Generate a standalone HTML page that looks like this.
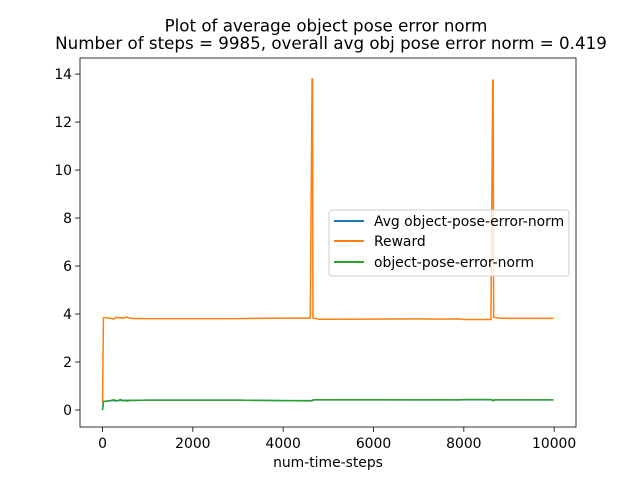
<!DOCTYPE html>
<html><head><meta charset="utf-8"><style>
body{margin:0;background:#fff;}
svg text{font-family:"DejaVu Sans","Liberation Sans",sans-serif;fill:#000;}
</style></head><body>
<svg id="chart" width="640" height="480" xmlns="http://www.w3.org/2000/svg">
<rect width="640" height="480" fill="#fff"/>
<text x="326" y="31.5" font-size="16.7" text-anchor="middle">Plot of average object pose error norm</text>
<text x="331" y="49" font-size="16.7" text-anchor="middle">Number of steps = 9985, overall avg obj pose error norm = 0.419</text>
<g id="plot"></g>
<g id="axes"></g>
<text x="328" y="467" font-size="13.9" text-anchor="middle">num-time-steps</text>
<g>
<rect x="329" y="210" width="240" height="66" rx="3" fill="#fff" fill-opacity="0.8" stroke="#ccc"/>
<line x1="334" y1="221" x2="364" y2="221" stroke="#1f77b4" stroke-width="2"/>
<text x="374" y="226" font-size="13.9">Avg object-pose-error-norm</text>
<line x1="334" y1="241" x2="364" y2="241" stroke="#ff7f0e" stroke-width="2"/>
<text x="374" y="246" font-size="13.9">Reward</text>
<line x1="334" y1="262" x2="364" y2="262" stroke="#2ca02c" stroke-width="2"/>
<text x="374" y="267" font-size="13.9">object-pose-error-norm</text>
</g>
</svg>
<script>
const steps = [0,20,40,150,250,300,350,400,450,500,550,600,700,1000,2000,3000,3500,4000,4600,4640,4650,4660,4700,4800,5000,6000,7000,7500,7900,8000,8600,8640,8650,8660,8700,8800,9000,9500,9985];
const reward = [0.3,3.85,3.85,3.83,3.79,3.87,3.84,3.85,3.82,3.86,3.87,3.83,3.81,3.81,3.81,3.81,3.82,3.83,3.83,13.8,13.8,3.83,3.82,3.78,3.78,3.79,3.80,3.79,3.80,3.77,3.77,13.75,13.75,3.86,3.85,3.83,3.82,3.82,3.82];
const errorNorm = [0.0,0.35,0.36,0.38,0.43,0.37,0.40,0.44,0.38,0.40,0.37,0.40,0.40,0.41,0.41,0.41,0.40,0.39,0.38,0.38,0.40,0.42,0.43,0.43,0.43,0.43,0.42,0.43,0.42,0.44,0.44,0.40,0.38,0.41,0.42,0.42,0.42,0.42,0.42];
const avgNorm = [0.0,0.35,0.36,0.38,0.40,0.39,0.39,0.40,0.40,0.40,0.40,0.40,0.40,0.41,0.41,0.41,0.40,0.39,0.39,0.39,0.40,0.41,0.42,0.42,0.42,0.42,0.42,0.42,0.42,0.43,0.43,0.41,0.41,0.41,0.42,0.42,0.42,0.42,0.42];
const xTicks = [0,2000,4000,6000,8000,10000];
const yTicks = [0,2,4,6,8,10,12,14];

const L=80,R=576,T=58,B=427;
const xMin=-499,xMax=10484,yMin=-0.708,yMax=14.67;
const X=v=>L+(v-xMin)/(xMax-xMin)*(R-L);
const Y=v=>B-(v-yMin)/(yMax-yMin)*(B-T);
const NS="http://www.w3.org/2000/svg";
const plot=document.getElementById('plot'), axes=document.getElementById('axes');
function mk(tag,attrs,parent){const e=document.createElementNS(NS,tag);for(const k in attrs)e.setAttribute(k,attrs[k]);parent.appendChild(e);return e;}
function series(vals,color,name){
  const d=vals.map((v,i)=>(i?'L':'M')+X(steps[i]).toFixed(2)+','+Y(v).toFixed(2)).join('');
  const p=mk('path',{d:d,fill:'none',stroke:color,'stroke-width':1.5,'stroke-linejoin':'round'},plot);
  
  
}
series(avgNorm,'#1f77b4','avg-error-line');
series(reward,'#ff7f0e','reward-line');
series(errorNorm,'#2ca02c','error-norm-line');
const frame=mk('rect',{x:L,y:T,width:R-L,height:B-T,fill:'none',stroke:'#000','stroke-width':0.8},axes);


xTicks.forEach(t=>{
  const x=X(t);
  const l=mk('line',{x1:x,y1:B,x2:x,y2:B+4.9,stroke:'#000','stroke-width':0.8},axes);
  
  
  const tx=mk('text',{x:x,y:B+21,'font-size':13.9,'text-anchor':'middle'},axes);
  tx.textContent=t;
  
  
});
yTicks.forEach(t=>{
  const y=Y(t);
  const l=mk('line',{x1:L-4.9,y1:y,x2:L,y2:y,stroke:'#000','stroke-width':0.8},axes);
  
  
  const tx=mk('text',{x:L-8,y:y+5,'font-size':13.9,'text-anchor':'end'},axes);
  tx.textContent=t;
  
  
});
</script>
</body></html>
